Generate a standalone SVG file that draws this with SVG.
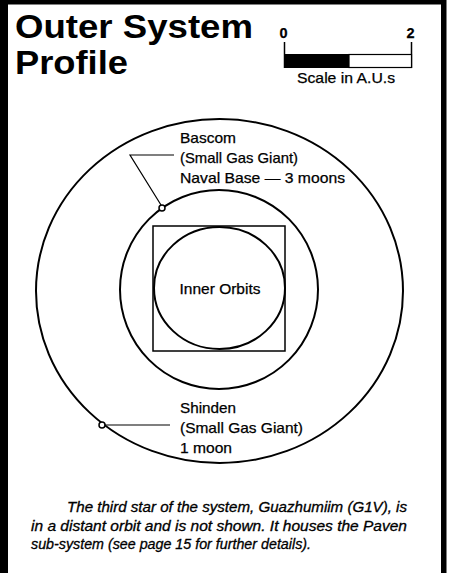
<svg xmlns="http://www.w3.org/2000/svg" width="451" height="573" viewBox="0 0 451 573">
<style>
  .orbit { fill: none; stroke: #000; stroke-width: 2; }
  .thin { fill: none; stroke: #000; stroke-width: 1.5; }
  .lead { fill: none; stroke: #000; stroke-width: 1.2; }
  .planet { fill: #fff; stroke: #000; stroke-width: 1.5; }
  .label { font-family: "Liberation Sans", Arial, sans-serif; font-size: 14.5px; fill: #000; stroke: #000; stroke-width: 0.25; }
  .title { font-family: "Liberation Sans", Arial, sans-serif; font-size: 34px; font-weight: bold; fill: #000; }
  .note { font-family: "Liberation Sans", Arial, sans-serif; font-size: 14px; font-style: italic; fill: #000; stroke: #000; stroke-width: 0.3; }
</style>
<rect x="0" y="0" width="451" height="573" fill="#fff"/>
<g id="frame" fill="#000">
  <rect x="0" y="0" width="8" height="573"/>
  <rect x="0" y="0" width="446" height="4.5"/>
  <rect x="441" y="0" width="5.5" height="573"/>
</g>
<g id="title">
  <text class="title" x="15" y="38" textLength="238" lengthAdjust="spacingAndGlyphs">Outer System</text>
  <text class="title" x="15" y="74" textLength="113" lengthAdjust="spacingAndGlyphs">Profile</text>
</g>
<g id="scale">
  <text class="label" x="283.5" y="38" font-size="13" font-weight="bold" text-anchor="middle">0</text>
  <text class="label" x="410.5" y="38" font-size="13" font-weight="bold" text-anchor="middle">2</text>
  <line x1="284.5" y1="42" x2="284.5" y2="68" stroke="#000" stroke-width="1.5"/>
  <line x1="411.5" y1="42" x2="411.5" y2="68" stroke="#000" stroke-width="1.5"/>
  <rect x="284.5" y="54" width="64.5" height="14" fill="#000"/>
  <rect x="349" y="54.5" width="62.5" height="13" fill="#fff" stroke="#000" stroke-width="1.2"/>
  <text class="label" x="346" y="83" font-size="14" text-anchor="middle" textLength="98" lengthAdjust="spacingAndGlyphs">Scale in A.U.s</text>
</g>
<g id="outer-orbit">
  <ellipse class="orbit" cx="219.5" cy="291" rx="183.5" ry="172"/>
</g>
<g id="middle-orbit">
  <ellipse class="orbit" cx="219" cy="289.5" rx="99" ry="99.5"/>
</g>
<g id="inner-orbits">
  <rect class="thin" x="153" y="226" width="132" height="125"/>
  <ellipse class="orbit" cx="219.5" cy="288" rx="65.5" ry="61"/>
  <text class="label" x="220" y="294" text-anchor="middle" textLength="81" lengthAdjust="spacingAndGlyphs">Inner Orbits</text>
</g>
<g id="connectors">
  <polyline class="lead" points="161,205 130,155 174,155"/>
  <line class="lead" x1="105" y1="425" x2="170" y2="425"/>
</g>
<g id="bascom">
  <circle class="planet" cx="162" cy="208" r="3"/>
  <text class="label" x="180" y="143" textLength="56" lengthAdjust="spacingAndGlyphs">Bascom</text>
  <text class="label" x="180" y="163" textLength="118" lengthAdjust="spacingAndGlyphs">(Small Gas Giant)</text>
  <text class="label" x="180" y="182.5" textLength="165" lengthAdjust="spacingAndGlyphs">Naval Base — 3 moons</text>
</g>
<g id="shinden">
  <circle class="planet" cx="102" cy="425" r="3"/>
  <text class="label" x="180" y="413" textLength="56" lengthAdjust="spacingAndGlyphs">Shinden</text>
  <text class="label" x="180" y="433" textLength="123" lengthAdjust="spacingAndGlyphs">(Small Gas Giant)</text>
  <text class="label" x="180" y="453" textLength="52" lengthAdjust="spacingAndGlyphs">1 moon</text>
</g>
<g id="footnote">
  <text class="note" x="67" y="512" textLength="340" lengthAdjust="spacingAndGlyphs">The third star of the system, Guazhumiim (G1V), is</text>
  <text class="note" x="31" y="530.5" textLength="376" lengthAdjust="spacingAndGlyphs">in a distant orbit and is not shown. It houses the Paven</text>
  <text class="note" x="31" y="548.5" textLength="280" lengthAdjust="spacingAndGlyphs">sub-system (see page 15 for further details).</text>
</g>
</svg>
